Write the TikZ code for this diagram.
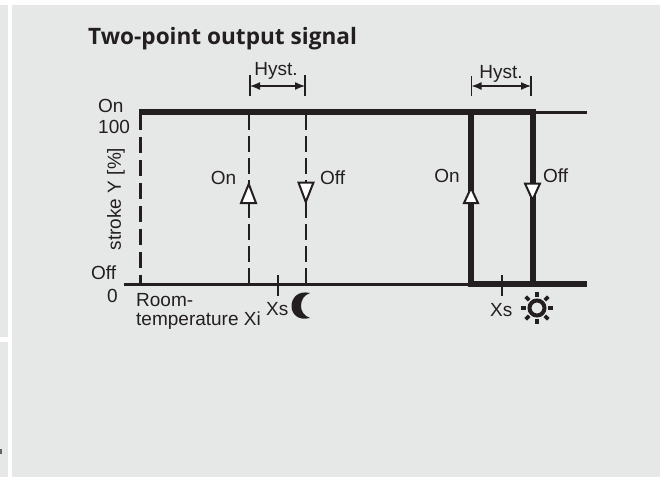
\documentclass[tikz,border=0pt]{standalone}
\usepackage{fontspec}
\setmainfont{Liberation Sans}
\newfontfamily\titlefont{Open Sans}
\usetikzlibrary{arrows.meta}
\definecolor{panel}{HTML}{E6E8E7}
\definecolor{ink}{HTML}{231F20}
\tikzset{
  lbl/.style={inner sep=0pt,text=ink,font=\fontsize{19}{22}\selectfont},
  thickline/.style={draw=ink,line width=6pt},
  midline/.style={draw=ink,line width=3pt},
  thindash/.style={draw=ink,line width=1.5pt,dash pattern=on 16pt off 6pt},
  axisdash/.style={draw=ink,line width=3pt,dash pattern=on 16pt off 7pt},
  tick/.style={draw=ink,line width=1.5pt},
  xstick/.style={draw=ink,line width=2pt},
  dim/.style={draw=ink,line width=1.3pt,{Latex[length=10pt,width=8pt]}-{Latex[length=10pt,width=8pt]}},
  tri/.style={draw=ink,fill=white,line width=2pt,line join=miter},
}
\begin{document}
\begin{tikzpicture}[x=1pt,y=-1pt]
\useasboundingbox (0,0) rectangle (665,477);
\fill[white] (0,0) rectangle (665,477);
\fill[panel] (0,5) rectangle (7.5,337);
\fill[panel] (0,342) rectangle (7.5,477);
\fill[panel] (12,5) rectangle (660,477);
\fill[ink!70] (0,449) rectangle (2,454);
% title
\node[inner sep=0pt,anchor=base west,text=ink,font=\titlefont\bfseries\fontsize{22.6}{26}\selectfont] (title) at (88,44.5) {Two-point output signal};
% key coordinates
\coordinate (tl) at (140,114);
\coordinate (bl) at (140,284);
\coordinate (ax) at (124,284);
\coordinate (r1t) at (471,112);
\coordinate (r1b) at (471,284);
\coordinate (r2t) at (532.5,112);
\coordinate (r2b) at (532.5,284);
\coordinate (endt) at (587,112);
\coordinate (endb) at (587,284);
\coordinate (d1t) at (248.75,114);
\coordinate (d1b) at (248.75,284);
\coordinate (d2t) at (305.75,114);
\coordinate (d2b) at (305.75,284);
% dashed verticals
\draw[thindash] (d1t) -- (d1b);
\draw[thindash] (d2t) -- (d2b);
\draw[axisdash] (tl) -- (bl);
% axis lines
\draw[midline] (ax) -- (r1b);
\draw[midline] (r2t) -- (endt);
\draw[thickline] (139,112) -- (535.5,112);
\draw[thickline] (468,284) -- (endb);
\draw[thickline] (r1t) -- (r1b);
\draw[thickline] (r2t) -- (r2b);
% ticks
\draw[xstick] (277.5,275) -- (277.5,295.5);
\draw[xstick] (502,275) -- (502,296);
% hysteresis
\coordinate (h1a) at (250,86); \coordinate (h1b) at (305,86);
\coordinate (h2a) at (471.5,86); \coordinate (h2b) at (531,86);
\draw[tick] (250,75) -- (250,95.5);
\draw[tick] (305,75) -- (305,95.5);
\draw[tick] (471.5,75.5) -- (471.5,96);
\draw[tick] (531,75.5) -- (531,96);
\draw[dim] (h1a) -- (h1b);
\draw[dim] (h2a) -- (h2b);
\node[lbl,anchor=base] (hy1) at (276,75.3) {Hyst.};
\node[lbl,anchor=base] (hy2) at (501,78.7) {Hyst.};
% triangles
\draw[tri] (248.75,184) -- (241,203) -- (256,203) -- cycle;
\draw[tri] (298.5,182.5) -- (313.5,182.5) -- (305.75,202) -- cycle;
\draw[tri] (471,188) -- (464,203) -- (478,203) -- cycle;
\draw[tri] (525,183.5) -- (540,183.5) -- (532.5,200) -- cycle;
% labels
\node[lbl,anchor=base west] (onl) at (98,112.5) {On};
\node[lbl,anchor=base west] (hun) at (98,133) {100};
\node[lbl,anchor=base west] (offl) at (91,279) {Off};
\node[lbl,anchor=base east] (zero) at (118,302) {0};
\node[lbl,rotate=90] (stroke) at (116,199) {stroke Y [\%]};
\node[lbl,anchor=base east] (on1) at (236.5,184) {On};
\node[lbl,anchor=base west] (off1) at (320,184) {Off};
\node[lbl,anchor=base east] (on2) at (460,182.7) {On};
\node[lbl,anchor=base west] (off2) at (543,182.7) {Off};
\node[lbl,anchor=base west] (room) at (136,306.7) {Room-};
\node[lbl,anchor=base west] (temp) at (136,325.6) {temperature Xi};
\node[lbl,anchor=base west] (xs1) at (266,315) {Xs};
\node[lbl,anchor=base west] (xs2) at (490,316.7) {Xs};
% moon
\fill[ink] (310,293) .. controls (297,290) and (291.5,299) .. (291.5,306) .. controls (291.5,314) and (298,321) .. (310,318) .. controls (304,316) and (301,311) .. (301,306) .. controls (301,300) and (304,295) .. (310,293) -- cycle;
% sun
\coordinate (sun) at (537,308);
\draw[ink,line width=4pt] (sun) circle (7.5pt);
\foreach \a in {0,45,...,315}{
  \draw[ink,line width=3.6pt] (sun) ++(\a:11pt) -- ++(\a:5pt);
}
\end{tikzpicture}
\end{document}
